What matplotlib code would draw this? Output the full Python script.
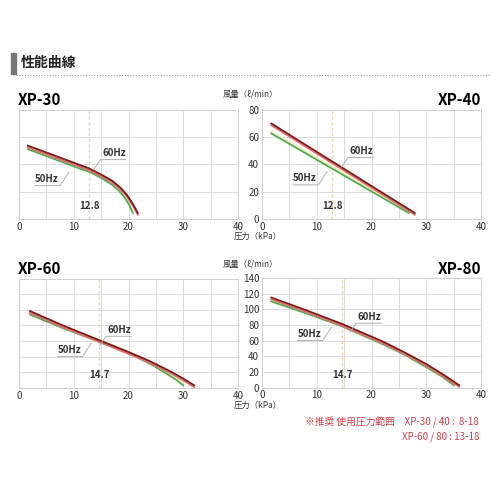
import matplotlib.pyplot as plt
import matplotlib.patheffects as pe

plt.rcParams['font.family'] = ['Noto Sans CJK JP', 'DejaVu Sans']

# ---- data ----
models = ["XP-30", "XP-40", "XP-60", "XP-80"]
ymax = [80, 80, 140, 140]
recommend = [12.8, 12.8, 14.7, 14.7]

p60_30 = [1.6, 5, 8, 11, 12.8, 15, 17, 18.5, 19.7, 20.8, 21.7]
q60_30 = [53.6, 48.6, 44.1, 39.6, 37, 32.5, 28, 23, 17.7, 11, 4.4]
p50_30 = [1.6, 5, 8, 11, 12.8, 15, 17, 18.3, 19.3, 20.1, 20.8]
q50_30 = [51, 46, 41.5, 37, 34.5, 30, 25, 20.5, 15.5, 10.5, 4.4]

p60_40 = [1.7, 27.9]
q60_40 = [69.8, 4.4]
p50_40 = [1.7, 26.8]
q50_40 = [62.5, 4.4]

p60_60 = [2, 8, 14.7, 20, 24, 28, 30, 32]
q60_60 = [98.4, 80, 61, 46, 34, 20, 12, 3.4]
p50_60 = [2, 8, 14.7, 20, 24.2, 27, 28.6, 30]
q50_60 = [94, 76.5, 59, 44.5, 30, 18, 11, 3.4]

p60_80 = [1.7, 8, 14.7, 22, 26, 30, 33, 36]
q60_80 = [115, 99, 81, 59, 45, 30, 17, 3]
p50_80 = [1.7, 8, 14.7, 22, 26, 30, 33, 35]
q50_80 = [110, 95, 78, 55.5, 42, 26, 13.5, 3]

curves = [(p60_30, q60_30, p50_30, q50_30),
          (p60_40, q60_40, p50_40, q50_40),
          (p60_60, q60_60, p50_60, q50_60),
          (p60_80, q60_80, p50_80, q50_80)]

# label positions (data coords): 60Hz text, 50Hz text
lab60 = [(15.2, 44.5), (16.0, 46), (16.2, 68), (17.5, 84)]
lab50 = [(2.9, 25.5), (5.7, 26), (7.0, 42), (6.5, 62)]

fig = plt.figure(figsize=(5, 5), dpi=100)

# header
fig.patches.append(plt.Rectangle((0.022, 0.852), 0.009, 0.042, transform=fig.transFigure,
                                 color='#777777'))
fig.text(0.042, 0.874, "性能曲線", fontsize=10, fontweight='bold', va='center', color='#222222')
fig.add_artist(plt.Line2D([0.031, 0.98], [0.851, 0.851], transform=fig.transFigure,
                          color='#999999', lw=0.8, ls=(0, (1, 1.5))))

positions = [(0.038, 0.562), (0.524, 0.562), (0.038, 0.224), (0.524, 0.225)]
w, h = 0.438, 0.219

for i, m in enumerate(models):
    ax = fig.add_axes([positions[i][0], positions[i][1], w, h])
    p60, q60, p50, q50 = curves[i]
    ax.set_xlim(0, 40)
    ax.set_ylim(0, ymax[i])
    ax.set_xticks(range(0, 41, 5))
    ax.set_xticklabels(["0", "", "10", "", "20", "", "30", "", "40"])
    ax.set_yticks(range(0, ymax[i] + 1, 20))
    ax.grid(True, color='#dcdcdc', lw=0.7)
    ax.set_axisbelow(True)
    for s in ax.spines.values():
        s.set_color('#cfcfcf')
        s.set_linewidth(0.7)
    ax.tick_params(length=0, labelsize=7, colors='#333333', pad=2)
    if i % 2 == 0:
        ax.tick_params(labelleft=False)
        ax.set_title(m, loc='left', fontsize=11, fontweight='bold', pad=3, x=-0.005)
    else:
        ax.set_title(m, loc='right', fontsize=11, fontweight='bold', pad=3)

    # recommended pressure line
    r = recommend[i]
    ax.axvline(r, color='#e6d7a0', lw=1, ls=(0, (2, 2)))
    ax.text(r, ymax[i] * 0.07, f"{r}", ha='center', va='bottom', fontsize=7,
            fontweight='bold', color='#333333')

    ax.plot(p50, q50, color='#4caf50', lw=1.3,
            path_effects=[pe.SimpleLineShadow(offset=(0, 1.3), shadow_color='#f2e8b8', alpha=1),
                          pe.Normal()])
    ax.plot(p60, q60, color='#7a1a1a', lw=1.3,
            path_effects=[pe.SimpleLineShadow(offset=(0, -1.3), shadow_color='#e87070', alpha=1),
                          pe.Normal()])

    # labels with leader lines
    dy = ymax[i] * 0.045
    x6, y6 = lab60[i]
    ax.text(x6, y6, "60Hz", fontsize=7, fontweight='bold', color='#333333', va='bottom')
    ax.plot([x6 - 1.5, x6 - 0.3, x6 + 4.3], [y6 - dy * 2.2, y6 - dy * 0.3, y6 - dy * 0.3],
            color='#b0b0b0', lw=0.7)
    x5, y5 = lab50[i]
    ax.text(x5, y5, "50Hz", fontsize=7, fontweight='bold', color='#333333', va='bottom')
    ax.plot([x5, x5 + 4.6, x5 + 6.2], [y5 - dy * 0.3, y5 - dy * 0.3, y5 + dy * 2.4],
            color='#b0b0b0', lw=0.7)

# axis captions
fig.text(0.50, 0.806, "風量（ℓ/min）", fontsize=6, ha='center', color='#333333')
fig.text(0.515, 0.522, "圧力（kPa）", fontsize=6, ha='center', color='#333333')
fig.text(0.50, 0.466, "風量（ℓ/min）", fontsize=6, ha='center', color='#333333')
fig.text(0.515, 0.184, "圧力（kPa）", fontsize=6, ha='center', color='#333333')

fig.text(0.958, 0.148, "※推奨 使用圧力範囲　XP-30 / 40 :  8-18", fontsize=7, ha='right',
         color='#d0404a')
fig.text(0.958, 0.122, "XP-60 / 80 : 13-18", fontsize=7, ha='right', color='#d0404a')

fig.savefig("out.png", dpi=100)
